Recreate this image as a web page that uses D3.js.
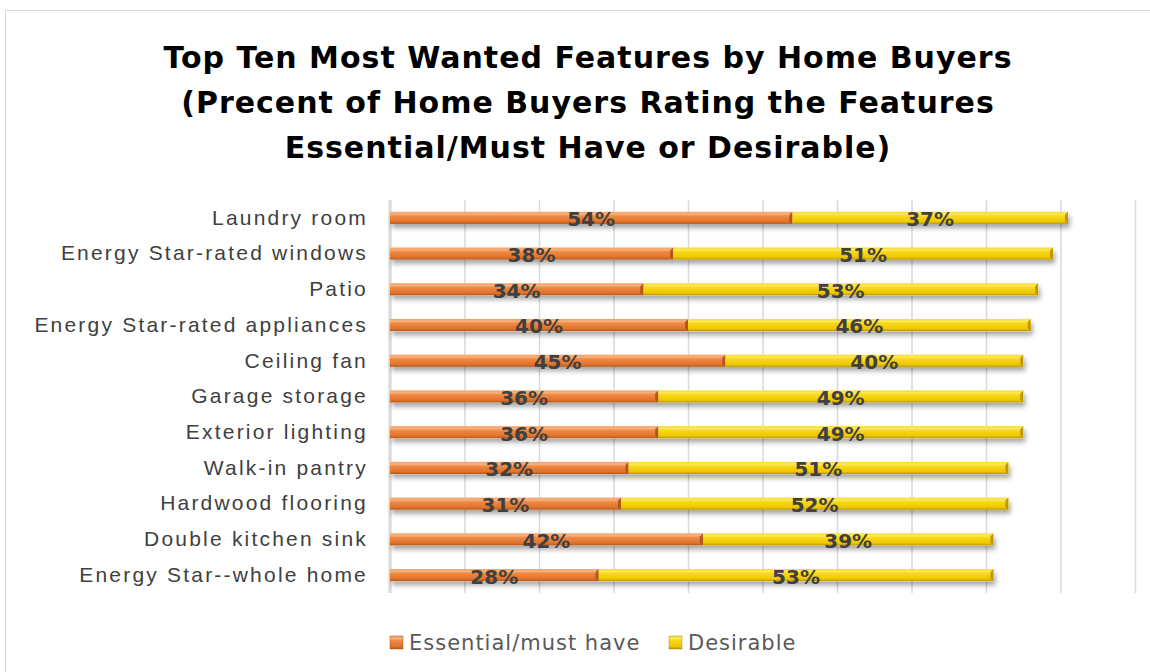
<!DOCTYPE html>
<html lang="en">
<head>
<meta charset="utf-8">
<title>Top Ten Most Wanted Features by Home Buyers</title>
<script src="https://d3js.org/d3.v7.min.js"></script>
<style>
  body { margin: 0; background: #fff; }
  svg { display: block; font-family: 'DejaVu Sans', sans-serif; }
  .title { font-size: 30px; font-weight: bold; fill: #000; letter-spacing: 1px; }
  .cat text { font-size: 21px; fill: #404040; letter-spacing: 2.2px; }
  .value { font-size: 20px; font-weight: bold; fill: #404040; }
  .legend text { font-size: 21px; fill: #595959; letter-spacing: 1px; }
  .grid line { stroke: #d9d9d9; stroke-width: 1.5; }
  .grid path { stroke: none; }
</style>
</head>
<body>
<svg width="1150" height="672"></svg>
<script>
const categories = [
  'Laundry room',
  'Energy Star-rated windows',
  'Patio',
  'Energy Star-rated appliances',
  'Ceiling fan',
  'Garage storage',
  'Exterior lighting',
  'Walk-in pantry',
  'Hardwood flooring',
  'Double kitchen sink',
  'Energy Star--whole home'
];
const essential = [54, 38, 34, 40, 45, 36, 36, 32, 31, 42, 28];
const desirable = [37, 51, 53, 46, 40, 49, 49, 51, 52, 39, 53];
const seriesNames = ['Essential/must have', 'Desirable'];
const xTicks = [0, 10, 20, 30, 40, 50, 60, 70, 80, 90, 100];
const titleLines = [
  'Top Ten Most Wanted Features by Home Buyers',
  '(Precent of Home Buyers Rating the Features',
  'Essential/Must Have or Desirable)'
];

const svg = d3.select('svg');
const W = 1150, H = 672;

// outer frame (chart area border, runs off the right/bottom edges)
svg.append('rect')
  .attr('x', 5.5).attr('y', 10.5)
  .attr('width', W).attr('height', H)
  .attr('fill', 'none').attr('stroke', '#d9d9d9');

// gradients for the bevelled bars
const defs = svg.append('defs');
function grad(id, stops) {
  const g = defs.append('linearGradient').attr('id', id)
    .attr('x1', 0).attr('y1', 0).attr('x2', 0).attr('y2', 1);
  stops.forEach(s => g.append('stop').attr('offset', s[0]).attr('stop-color', s[1]));
}
grad('gOrange', [[0, '#f3a064'], [0.2, '#f7b27c'], [0.35, '#ee8a45'], [0.8, '#e0732c'], [1, '#b55516']]);
grad('gYellow', [[0, '#f7d834'], [0.2, '#fde95a'], [0.35, '#f8d81a'], [0.8, '#eec800'], [1, '#b89300']]);
const shadow = defs.append('filter').attr('id', 'shadow')
  .attr('x', '-5%').attr('y', '-60%').attr('width', '110%').attr('height', '280%');
shadow.append('feDropShadow').attr('dx', 2).attr('dy', 4).attr('stdDeviation', 2.5)
  .attr('flood-color', '#000').attr('flood-opacity', 0.35);

const plotL = 390, plotR = 1135, plotT = 200, plotB = 593;

const x = d3.scaleLinear().domain([0, 100]).range([plotL, plotR]);
const y = d3.scaleBand().domain(categories).range([plotT, plotB]).paddingInner(0.66).paddingOuter(0.33);

// title
svg.append('g').selectAll('text')
  .data(titleLines).join('text')
  .attr('class', 'title')
  .attr('x', 588)
  .attr('y', (d, i) => 68 + i * 45)
  .attr('text-anchor', 'middle')
  .text(d => d);

// vertical grid lines
svg.append('g')
  .attr('class', 'grid')
  .attr('transform', `translate(0,${plotB})`)
  .call(d3.axisBottom(x).tickValues(xTicks).tickSize(-(plotB - plotT)).tickFormat(''));

// left axis line
svg.append('line')
  .attr('x1', plotL).attr('x2', plotL)
  .attr('y1', plotT).attr('y2', plotB)
  .attr('stroke', '#d9d9d9').attr('stroke-width', 3);

// category labels
svg.append('g')
  .attr('class', 'cat')
  .attr('transform', `translate(${plotL - 22},0)`)
  .call(d3.axisLeft(y).tickSize(0).tickPadding(0))
  .call(g => g.select('.domain').remove());

const rows = categories.map((c, i) => ({ cat: c, e: essential[i], d: desirable[i] }));
const segs = [];
rows.forEach(r => {
  segs.push({ cat: r.cat, x0: 0, x1: r.e, v: r.e, s: 0 });
  segs.push({ cat: r.cat, x0: r.e, x1: r.e + r.d, v: r.d, s: 1 });
});

const bars = svg.append('g');
// shadows first
bars.selectAll('rect.sh')
  .data(rows).join('rect')
  .attr('class', 'sh')
  .attr('x', x(0))
  .attr('y', d => y(d.cat))
  .attr('width', d => x(d.e + d.d) - x(0))
  .attr('height', y.bandwidth())
  .attr('fill', '#fff')
  .attr('filter', 'url(#shadow)');

bars.selectAll('rect.seg')
  .data(segs).join('rect')
  .attr('class', 'seg')
  .attr('x', d => x(d.x0))
  .attr('y', d => y(d.cat))
  .attr('width', d => x(d.x1) - x(d.x0))
  .attr('height', y.bandwidth())
  .attr('fill', d => d.s === 0 ? 'url(#gOrange)' : 'url(#gYellow)');

// bevel edge at the end of each segment
bars.selectAll('path.bevel')
  .data(segs).join('path')
  .attr('class', 'bevel')
  .attr('d', d => {
    const xe = x(d.x1), yt = y(d.cat), h = y.bandwidth();
    return `M${xe - 3},${yt + 3} L${xe},${yt} L${xe},${yt + h} L${xe - 3},${yt + h - 3} Z`;
  })
  .attr('fill', d => d.s === 0 ? '#a9480e' : '#b08a00')
  .attr('opacity', 0.8);

// data labels
svg.append('g').selectAll('text')
  .data(segs).join('text')
  .attr('class', 'value')
  .attr('x', d => x((d.x0 + d.x1) / 2))
  .attr('y', d => y(d.cat) + y.bandwidth() / 2)
  .attr('dy', '0.42em')
  .attr('text-anchor', 'middle')
  .text(d => d.v + '%');

// legend
const legend = svg.append('g').attr('class', 'legend');
const legX = [390, 669];
const legFill = ['url(#gOrange)', 'url(#gYellow)'];
seriesNames.forEach((n, i) => {
  const g = legend.append('g').attr('transform', `translate(${legX[i]},643)`);
  g.append('rect').attr('x', 0).attr('y', -7).attr('width', 13).attr('height', 13)
    .attr('fill', legFill[i]).attr('stroke', i === 0 ? '#b55516' : '#b89300').attr('stroke-width', 0.5);
  g.append('text').attr('x', 19).attr('y', 0).attr('dy', '0.35em').text(n);
});
</script>
</body>
</html>
